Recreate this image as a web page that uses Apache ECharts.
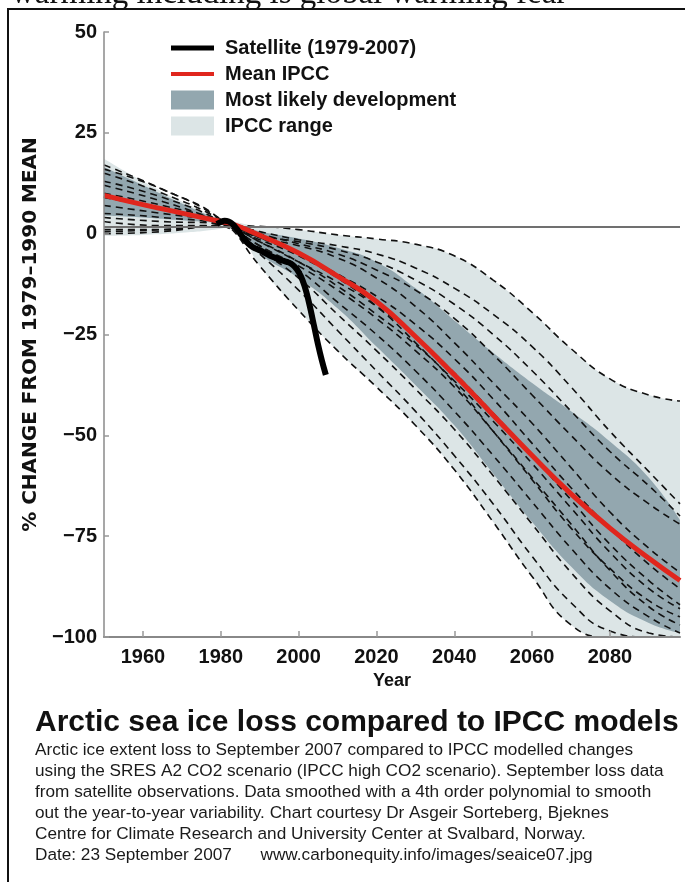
<!DOCTYPE html>
<html>
<head>
<meta charset="utf-8">
<script src="https://cdn.jsdelivr.net/npm/echarts@6.0.0/dist/echarts.min.js"></script>
<style>
  html, body { margin: 0; padding: 0; background: #fff; }
  #chart { width: 685px; height: 882px; }
</style>
</head>
<body>
<div id="chart"></div>
<script>
// values (% change from 1979-1990 mean)
const bandYears = [1950, 1960, 1970, 1980, 1983, 1990, 2000, 2010, 2020, 2030, 2040, 2050, 2060, 2070, 2080, 2090, 2098];
const rangeHigh = [18.6, 13, 8, 3.6, 3, 1.8, 1, -0.3, -1.3, -2.6, -5.5, -11.5, -19.5, -28.5, -36, -40, -41.5];
const rangeLow = [-0.5, -0.3, 0.2, 1.2, 2, -8, -19, -29, -38, -47.5, -58.5, -71.5, -85, -97, -100, -100, -100];
const likelyHigh = [16.5, 12, 7.5, 3.4, 2.7, 0.6, -1.2, -3.5, -7, -13.5, -21.5, -29.5, -37, -44, -51.5, -60.5, -71];
const likelyLow = [4.5, 4, 3.3, 2.6, 2.3, -5, -11, -18.5, -28, -37.5, -47.5, -59.5, -71.5, -82.5, -91, -96.5, -99];
const meanIPCC = [9.5, 7.2, 5.1, 3.0, 2.4, -0.4, -4.8, -10.5, -16.8, -25.5, -35, -45, -55, -64.5, -73, -80.5, -86];

const satYears = [1979, 1980, 1981, 1982, 1983, 1984, 1985, 1986, 1987, 1988, 1989, 1990, 1991, 1992, 1993,
  1994, 1995, 1996, 1997, 1998, 1999, 2000, 2001, 2002, 2003, 2004, 2005, 2006, 2007];
const satellite = [2.4, 2.9, 3.2, 3.0, 2.4, 1.3, 0, -1.3, -2.4, -3.2, -3.7, -4.1, -4.6, -5.1, -5.6,
  -6.0, -6.4, -6.7, -7.0, -7.4, -8.2, -9.5, -11.5, -14.5, -18.5, -23, -27.5, -31.5, -35];

// individual model runs (dashed)
const modelYears = [1950, 1965, 1980, 1990, 2000, 2010, 2020, 2030, 2040, 2050, 2060, 2070, 2080, 2090, 2098];
const model01 = [0, 0.5, 2, 1.8, 1, -0.3, -1.3, -2.6, -5.5, -11.5, -19.5, -28.5, -36, -40, -41.5];
const model02 = [17, 11, 3.5, -8, -19, -29, -38, -47.5, -58.5, -71.5, -85, -97, -100, -100, -100];
const model03 = [4, 3, 2.5, 0.5, -1.5, -3, -5, -8.5, -13.5, -20, -28, -38, -49, -59, -67];
const model04 = [7, 5, 3, 0, -2.5, -5, -9, -14, -21, -30, -40, -50, -59.5, -67, -72];
const model05 = [1, 1, 2, -1, -3, -6, -11, -18, -27, -37, -47, -58, -69, -78, -84];
const model06 = [12, 8, 3, -1, -5, -10, -15.5, -22.5, -31, -41, -52, -63, -73, -82, -88];
const model07 = [9, 6, 2.5, -1.5, -5.5, -11, -18, -27, -37, -49, -61, -73, -83, -91, -95];
const model08 = [15, 10, 3.5, -3, -8, -14, -21, -29, -38, -49, -60.5, -72, -83.5, -92.5, -97];
const model09 = [5, 4, 2, -3, -9, -17, -25, -34, -44, -55, -66.5, -78, -88, -95, -99];
const model10 = [13, 9, 3, -4, -11, -20, -29, -38.5, -48.5, -60, -72, -84, -93.5, -99, -100];
const model11 = [16, 11, 3.5, -5, -14, -24, -34, -44, -55, -67, -80, -91.5, -98.5, -100, -100];
const model12 = [3, 2, 2, -2, -7, -13, -20, -27.5, -36.5, -46.5, -57, -68, -79, -88, -93];
const model13 = [10, 7, 3, -2, -7, -12, -18, -25.5, -34.5, -44.5, -55, -66, -77, -86, -92];
const model14 = [0.5, 1, 2, -0.5, -2, -4, -7, -11.5, -17.5, -25, -34, -44, -54, -62.5, -70];
const models = [model01, model02, model03, model04, model05, model06, model07,
  model08, model09, model10, model11, model12, model13, model14];

const yearTicks = [1960, 1980, 2000, 2020, 2040, 2060, 2080];
const zeroLine = 1.8; // the drawn reference line sits a little above the 0 tick

const captionLines = [
  "Arctic ice extent loss to September 2007 compared to IPCC modelled changes",
  "using the SRES A2 CO2 scenario (IPCC high CO2 scenario). September loss data",
  "from satellite observations. Data smoothed with a 4th order polynomial to smooth",
  "out the year-to-year variability. Chart courtesy Dr Asgeir Sorteberg, Bjeknes",
  "Centre for Climate Research and University Center at Svalbard, Norway.",
  "Date: 23 September 2007      www.carbonequity.info/images/seaice07.jpg",
];

const LIGHT = "#dce5e6";
const DARK = "#93a7af";
const RED = "#e0261d";
const SANS = "Liberation Sans, Arial, sans-serif";

const pairs = (xs, ys) => xs.map((x, i) => [x, ys[i]]);

// filled area from a curve down to the bottom of the axis; bands are painted in layers
function fillDown(name, ys, color, z) {
  return {
    name: name, type: "line", data: pairs(bandYears, ys), symbol: "none", smooth: 0.5,
    itemStyle: { color: color }, lineStyle: { width: 0, opacity: 0 },
    areaStyle: { color: color, opacity: 1, origin: "start" }, silent: true, z: z,
  };
}

const chart = echarts.init(document.getElementById("chart"), null, { renderer: "canvas" });

const series = [
  fillDown("IPCC range", rangeHigh, LIGHT, 1),
  fillDown("rangeCut", rangeLow, "#ffffff", 1),
  fillDown("Most likely development", likelyHigh, DARK, 2),
  fillDown("likelyCut", likelyLow, LIGHT, 2),
  fillDown("rangeCut2", rangeLow, "#ffffff", 2),
];

models.forEach((m, k) => {
  const s = {
    name: "model" + (k + 1), type: "line", data: pairs(modelYears, m),
    symbol: "none", smooth: 0.5, silent: true, z: 3,
    lineStyle: { color: "#111", width: 1.6, type: [7, 5] },
  };
  if (k === 0) {
    s.markLine = {
      silent: true, symbol: "none", label: { show: false },
      lineStyle: { color: "#707070", width: 2, type: "solid" },
      data: [{ yAxis: zeroLine }],
    };
  }
  series.push(s);
});

series.push({
  name: "Mean IPCC", type: "line", data: pairs(bandYears, meanIPCC),
  symbol: "none", smooth: 0.5, itemStyle: { color: RED },
  lineStyle: { color: RED, width: 5 }, silent: true, z: 5,
});
series.push({
  name: "Satellite (1979-2007)", type: "line", data: pairs(satYears, satellite),
  symbol: "none", smooth: 0.4, itemStyle: { color: "#000" },
  lineStyle: { color: "#000", width: 6, cap: "butt" }, silent: true, z: 6,
});

const option = {
  backgroundColor: "#fff",
  animation: false,
  title: {
    text: "Arctic sea ice loss compared to IPCC models",
    subtext: captionLines.join("\n"),
    left: 35, top: 708, padding: 0, itemGap: 2,
    textStyle: { fontFamily: SANS, fontWeight: "bold", fontSize: 30, color: "#111" },
    subtextStyle: { fontFamily: SANS, fontSize: 17.2, lineHeight: 21, color: "#1a1a1a" },
  },
  legend: {
    orient: "vertical", left: 166, top: 33,
    itemWidth: 43, itemHeight: 19, itemGap: 6, selectedMode: false,
    textStyle: { fontFamily: SANS, fontWeight: "bold", fontSize: 20, color: "#111", lineHeight: 19, padding: [0, 0, 0, 6] },
    data: [
      { name: "Satellite (1979-2007)", icon: "path://M0,0H43V5H0Z", itemStyle: { color: "#000", borderWidth: 0 } },
      { name: "Mean IPCC", icon: "path://M0,0H43V4H0Z", itemStyle: { color: RED, borderWidth: 0 } },
      { name: "Most likely development", icon: "rect", itemStyle: { color: DARK, borderWidth: 0 } },
      { name: "IPCC range", icon: "rect", itemStyle: { color: LIGHT, borderWidth: 0 } },
    ],
  },
  grid: { left: 104, right: 5, top: 32, bottom: 245, outerBoundsMode: "none" },
  xAxis: {
    type: "value", min: 1950, max: 2098, z: 10,
    name: "Year", nameLocation: "middle", nameGap: 33,
    nameTextStyle: { fontFamily: SANS, fontWeight: "bold", fontSize: 18, color: "#111" },
    axisLine: { onZero: false, lineStyle: { color: "#888", width: 2 } },
    axisTick: { inside: true, length: 6, customValues: yearTicks, lineStyle: { color: "#999", width: 1.5 } },
    axisLabel: {
      customValues: yearTicks, margin: 10, fontFamily: SANS, fontWeight: "bold", fontSize: 20, color: "#111",
      formatter: (v) => String(v),
    },
    splitLine: { show: false },
  },
  yAxis: {
    type: "value", min: -100, max: 50, interval: 25, z: 10,
    name: "% CHANGE FROM 1979\u20131990 MEAN", nameLocation: "middle", nameGap: 62,
    nameTextStyle: { fontFamily: "DejaVu Sans", fontWeight: "bold", fontSize: 20, color: "#111" },
    axisLine: { show: true, onZero: false, lineStyle: { color: "#8a8a8a", width: 1.5 } },
    axisTick: { show: true, inside: true, length: 5, lineStyle: { color: "#999", width: 1.5 } },
    axisLabel: {
      margin: 7, fontFamily: SANS, fontWeight: "bold", fontSize: 20, color: "#111",
      formatter: (v) => (v < 0 ? "\u2212" + Math.abs(v) : String(v)),
    },
    splitLine: { show: false },
  },
  graphic: [
    {
      type: "text", left: 11, top: -22, silent: true,
      style: { text: "warming including is global warming fear", font: '33px "Liberation Serif", serif', fill: "#111" },
    },
    {
      type: "polyline", silent: true,
      shape: { points: [[8, 882], [8, 9], [685, 9]] },
      style: { stroke: "#111", lineWidth: 2, fill: null },
    },
  ],
  series: series,
};

chart.setOption(option);
</script>
</body>
</html>
